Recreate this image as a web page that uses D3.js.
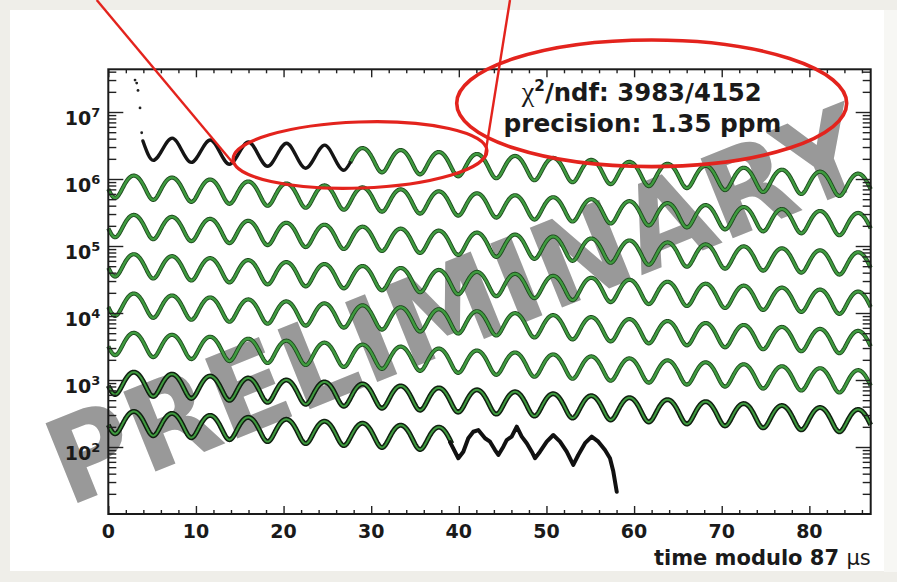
<!DOCTYPE html>
<html>
<head>
<meta charset="utf-8">
<script src="https://cdn.jsdelivr.net/npm/d3@7"></script>
<style>
  html, body { margin: 0; padding: 0; background: #efeee9; }
  svg { display: block; }
</style>
</head>
<body>
<div id="chart"></div>
<script>
// ---------------- data ----------------

// axis ticks
const xTickValues = [0, 10, 20, 30, 40, 50, 60, 70, 80];
const yTickExponents = [2, 3, 4, 5, 6, 7];

// early "flash" points at the start of the first fill (time in us, counts)
const flashTimes = [3.05, 3.24, 3.39, 3.62, 3.81];
const flashCounts = [3.0e7, 2.7e7, 2.1e7, 1.15e7, 4.9e6];

// first row of data shown before the fit starts (black)
const earlyTimes = [3.95, 5.12, 7.29, 9.47, 11.64, 13.82, 15.99, 18.17, 20.34, 22.52, 24.69, 26.87, 27.6];
const earlyCounts = [3.7e6, 1.90e6, 4.08e6, 1.77e6, 3.82e6, 1.66e6, 3.56e6, 1.55e6, 3.42e6, 1.45e6, 3.20e6, 1.35e6, 1.75e6];

// last row of data after the fit ends (black, noisy), time modulo 87 us
const tailTimes = [39.0, 39.94, 40.51, 41.08, 41.65, 42.22, 42.99, 43.56, 44.13, 44.51, 45.08, 45.46, 46.03,
  46.61, 47.18, 47.75, 48.32, 48.69, 49.26, 50.03, 50.78, 51.55, 52.31, 53.06, 53.63, 54.40, 55.16,
  55.92, 56.68, 57.25, 57.63, 58.02];
const tailCounts = [118, 68, 85, 135, 169, 179, 135, 120, 90, 76, 101, 127, 143,
  201, 143, 114, 85, 68, 85, 120, 151, 120, 85, 54, 76, 114, 143,
  120, 90, 68, 43, 21.5];

// fit: N(t) = N0 exp(-t/tau) (1 + A cos(2pi (t - tPeak)/T))
const fitN0 = 3.29e6;
const fitTau = 64.4;
const fitAsym = 0.38;
const fitPeriod = 4.35;
const fitPeakTime = 2.94;
const fitRange = [27.6, 648.2];
const wrapTime = 87;

const statText = ['/ndf: 3983/4152', 'precision: 1.35 ppm'];

// ---------------- layout ----------------
const width = 897, height = 582;
const frame = { left: 108.3, right: 870.7, top: 69.3, bottom: 514 };

const svg = d3.select('#chart').append('svg')
  .attr('width', width)
  .attr('height', height);

// slide background
svg.append('rect').attr('x', 884).attr('y', 10).attr('width', 13).attr('height', 562).attr('fill', '#f7f7f4');
svg.append('rect').attr('x', 10).attr('y', 10).attr('width', 874).attr('height', 561).attr('fill', '#fff');

let x = d3.scaleLinear().domain([0, wrapTime]).range([frame.left, frame.right]);
let y = d3.scaleLog().domain([10, 4.34e7]).range([frame.bottom, frame.top]);

// watermark
svg.append('text')
  .attr('transform', 'translate(68,507) rotate(-22) scale(0.97,1)')
  .attr('font-family', '"DejaVu Sans", sans-serif')
  .attr('font-weight', 'bold')
  .attr('font-size', 118)
  .attr('fill', '#999')
  .text('PRELIMINARY');

// **************** fit curve, wrapped in rows ****************
function fitValue(t) {
  return fitN0 * Math.exp(-t / fitTau) *
    (1 + fitAsym * Math.cos(2 * Math.PI * (t - fitPeakTime) / fitPeriod));
}

let rows = [];
for (let k = 0; k * wrapTime < fitRange[1]; k++) {
  let t0 = Math.max(0, fitRange[0] - k * wrapTime);
  let t1 = Math.min(wrapTime, fitRange[1] - k * wrapTime);
  if (t1 <= t0) continue;
  let pts = [];
  for (let t = t0; t <= t1 + 1e-9; t += 0.05) {
    pts.push([t, fitValue(t + k * wrapTime)]);
  }
  rows.push({ k: k, pts: pts });
}

let line = d3.line()
  .x(d => x(d[0]))
  .y(d => y(d[1]));

let plot = svg.append('g');

// dark data underneath the fit
plot.selectAll('path.under')
  .data(rows)
  .enter().append('path')
  .attr('class', 'under')
  .attr('d', d => line(d.pts))
  .attr('fill', 'none')
  .attr('stroke', d => d.k >= 6 ? '#102010' : '#1e4a1e')
  .attr('stroke-width', d => d.k >= 6 ? 5 : 4.2)
  .attr('stroke-linejoin', 'round');

plot.selectAll('path.fit')
  .data(rows)
  .enter().append('path')
  .attr('class', 'fit')
  .attr('d', d => line(d.pts))
  .attr('fill', 'none')
  .attr('stroke', '#3f9b3f')
  .attr('stroke-width', d => d.k >= 6 ? 2 : 2.4)
  .attr('stroke-linejoin', 'round');

// black data
let smoothLine = d3.line()
  .x(d => x(d[0]))
  .y(d => y(d[1]))
  .curve(d3.curveMonotoneX);

plot.append('path')
  .datum(d3.zip(earlyTimes, earlyCounts))
  .attr('d', smoothLine)
  .attr('fill', 'none')
  .attr('stroke', '#151515')
  .attr('stroke-width', 3.4)
  .attr('stroke-linecap', 'round');

plot.append('path')
  .datum(d3.zip(tailTimes, tailCounts))
  .attr('d', line)
  .attr('fill', 'none')
  .attr('stroke', '#111')
  .attr('stroke-width', 4)
  .attr('stroke-linejoin', 'round')
  .attr('stroke-linecap', 'round');

plot.selectAll('circle.flash')
  .data(d3.zip(flashTimes, flashCounts))
  .enter().append('circle')
  .attr('class', 'flash')
  .attr('cx', d => x(d[0]))
  .attr('cy', d => y(d[1]))
  .attr('r', 1.4)
  .attr('fill', '#222');

// **************** axes ****************
let majorY = yTickExponents.map(e => Math.pow(10, e));
let minorY = [];
for (let e = 1; e <= 7; e++) {
  for (let m = 2; m <= 9; m++) {
    let v = m * Math.pow(10, e);
    if (v < y.domain()[1]) minorY.push(v);
  }
}
let minorX = d3.range(0, wrapTime + 0.01, 2).filter(v => v % 10 !== 0);

function styleAxis(g) {
  g.select('.domain').remove();
  g.selectAll('line').attr('stroke', '#222').attr('stroke-width', 1.4);
}

svg.append('g').attr('transform', 'translate(0,' + frame.bottom + ')')
  .call(d3.axisBottom(x).tickValues(xTickValues).tickSize(-8).tickFormat(''))
  .call(styleAxis);
svg.append('g').attr('transform', 'translate(0,' + frame.bottom + ')')
  .call(d3.axisBottom(x).tickValues(minorX).tickSize(-4).tickFormat(''))
  .call(styleAxis);
svg.append('g').attr('transform', 'translate(0,' + frame.top + ')')
  .call(d3.axisTop(x).tickValues(xTickValues).tickSize(-8).tickFormat(''))
  .call(styleAxis);
svg.append('g').attr('transform', 'translate(0,' + frame.top + ')')
  .call(d3.axisTop(x).tickValues(minorX).tickSize(-4).tickFormat(''))
  .call(styleAxis);

svg.append('g').attr('transform', 'translate(' + frame.left + ',0)')
  .call(d3.axisLeft(y).tickValues(majorY).tickSize(-15).tickFormat(''))
  .call(styleAxis);
svg.append('g').attr('transform', 'translate(' + frame.left + ',0)')
  .call(d3.axisLeft(y).tickValues(minorY).tickSize(-8).tickFormat(''))
  .call(styleAxis);
svg.append('g').attr('transform', 'translate(' + frame.right + ',0)')
  .call(d3.axisRight(y).tickValues(majorY).tickSize(-15).tickFormat(''))
  .call(styleAxis);
svg.append('g').attr('transform', 'translate(' + frame.right + ',0)')
  .call(d3.axisRight(y).tickValues(minorY).tickSize(-8).tickFormat(''))
  .call(styleAxis);

svg.append('rect')
  .attr('x', frame.left).attr('y', frame.top)
  .attr('width', frame.right - frame.left)
  .attr('height', frame.bottom - frame.top)
  .attr('fill', 'none')
  .attr('stroke', '#1a1a1a')
  .attr('stroke-width', 2);

const labelFont = '"DejaVu Sans", Verdana, sans-serif';

// x tick labels
svg.append('g').selectAll('text')
  .data(xTickValues)
  .enter().append('text')
  .attr('x', d => x(d))
  .attr('y', frame.bottom + 24)
  .attr('text-anchor', 'middle')
  .attr('font-family', labelFont)
  .attr('font-weight', 'bold')
  .attr('font-size', 19)
  .attr('fill', '#1a1a1a')
  .text(d => d);

// y tick labels 10^n
let yLab = svg.append('g').selectAll('text')
  .data(yTickExponents)
  .enter().append('text')
  .attr('x', frame.left - 8)
  .attr('y', d => y(Math.pow(10, d)) + 13)
  .attr('text-anchor', 'end')
  .attr('font-family', labelFont)
  .attr('font-weight', 'bold')
  .attr('font-size', 19)
  .attr('fill', '#1a1a1a');
yLab.append('tspan').text('10');
yLab.append('tspan').attr('dy', -8.5).attr('font-size', 13).text(d => d);

// axis title
let xTitle = svg.append('text')
  .attr('x', frame.right)
  .attr('y', 565)
  .attr('text-anchor', 'end')
  .attr('font-family', labelFont)
  .attr('font-weight', 'bold')
  .attr('font-size', 21)
  .attr('fill', '#1a1a1a');
xTitle.append('tspan').text('time modulo 87 ');
xTitle.append('tspan').attr('font-weight', 'normal').text('\u00b5s');

// fit statistics
let stat1 = svg.append('text')
  .attr('x', 641.7)
  .attr('y', 101)
  .attr('text-anchor', 'middle')
  .attr('font-family', labelFont)
  .attr('font-weight', 'bold')
  .attr('font-size', 24)
  .attr('fill', '#1a1a1a')
  .attr('textLength', 240)
  .attr('lengthAdjust', 'spacingAndGlyphs');
stat1.append('tspan').attr('font-family', '"Liberation Serif", serif').attr('font-weight', 'normal')
  .attr('font-size', 28).text('\u03c7');
stat1.append('tspan').attr('dy', -10).attr('font-size', 15).text('2');
stat1.append('tspan').attr('dy', 10).text(statText[0]);

svg.append('text')
  .attr('x', 642.5)
  .attr('y', 132)
  .attr('text-anchor', 'middle')
  .attr('font-family', labelFont)
  .attr('font-weight', 'bold')
  .attr('font-size', 24)
  .attr('fill', '#1a1a1a')
  .attr('textLength', 278)
  .attr('lengthAdjust', 'spacingAndGlyphs')
  .text(statText[1]);

// **************** red annotations ****************
let red = '#e3231d';
let notes = svg.append('g').attr('fill', 'none').attr('stroke', red);
notes.append('line').attr('x1', 96.7).attr('y1', 0).attr('x2', 233).attr('y2', 163).attr('stroke-width', 2.4);
notes.append('line').attr('x1', 510).attr('y1', 0).attr('x2', 485).attr('y2', 156).attr('stroke-width', 2.4);
notes.append('ellipse')
  .attr('transform', 'translate(360,155) rotate(-2)')
  .attr('rx', 127).attr('ry', 33)
  .attr('stroke-width', 3.2);
notes.append('ellipse')
  .attr('cx', 651.7).attr('cy', 103.3)
  .attr('rx', 195).attr('ry', 63.3)
  .attr('stroke-width', 3.6);
</script>
</body>
</html>
